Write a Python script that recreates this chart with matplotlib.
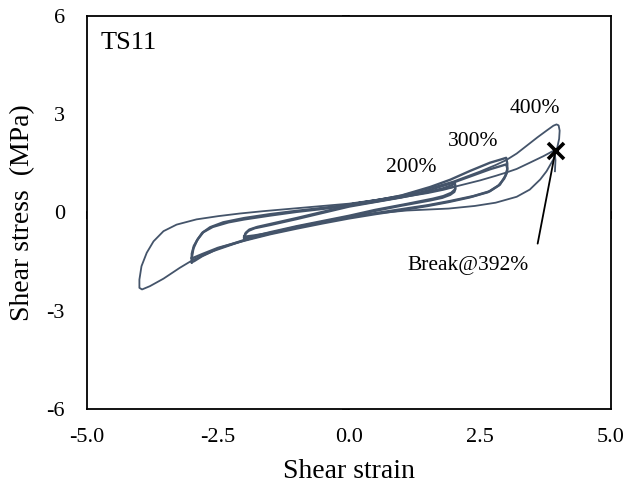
import matplotlib
matplotlib.use('Agg')
import matplotlib.pyplot as plt

plt.rcParams['font.family'] = ['Liberation Serif', 'DejaVu Serif']

# 200% cycles (strain, stress)
strain_200a = [-2.0, -1.98, -1.92, -1.8, -1.5, -1.0, -0.5, 0.0, 0.5, 1.0, 1.5, 1.8, 1.97, 2.02,
               2.03, 2.02, 1.95, 1.8, 1.6, 1.1, 0.5, 0.0, -0.5, -1.0, -1.5, -1.8, -1.95, -2.0]
stress_200a = [-0.80, -0.66, -0.56, -0.48, -0.38, -0.20, -0.01, 0.18, 0.32, 0.46, 0.62, 0.74, 0.84, 0.90,
               0.80, 0.70, 0.60, 0.50, 0.42, 0.26, 0.08, -0.10, -0.26, -0.42, -0.60, -0.72, -0.78, -0.80]
strain_200b = [-2.0, -1.97, -1.9, -1.75, -1.5, -1.0, -0.5, 0.0, 0.5, 1.0, 1.5, 1.8, 1.97, 2.02,
               2.03, 2.01, 1.93, 1.78, 1.55, 1.0, 0.5, 0.0, -0.5, -1.0, -1.5, -1.8, -1.95, -2.0]
stress_200b = [-0.74, -0.62, -0.52, -0.44, -0.35, -0.17, 0.02, 0.21, 0.34, 0.47, 0.60, 0.70, 0.77, 0.80,
               0.72, 0.63, 0.54, 0.45, 0.37, 0.21, 0.05, -0.13, -0.29, -0.45, -0.62, -0.70, -0.73, -0.74]

# 300% cycles
strain_300a = [-3.0, -3.0, -2.97, -2.9, -2.8, -2.65, -2.4, -2.0, -1.5, -1.0, -0.5, 0.0, 0.5, 1.0, 1.55,
               1.93, 2.31, 2.69, 2.9, 3.0, 3.02, 3.02, 2.98, 2.88, 2.69, 2.37, 1.93, 1.5, 1.0, 0.5, 0.0,
               -0.5, -1.0, -1.5, -2.0, -2.5, -2.8, -2.95, -3.0]
stress_300a = [-1.52, -1.38, -1.10, -0.85, -0.62, -0.45, -0.30, -0.17, -0.05, 0.05, 0.14, 0.24, 0.36, 0.52, 0.78,
               1.00, 1.27, 1.52, 1.62, 1.67, 1.50, 1.30, 1.11, 0.85, 0.65, 0.50, 0.35, 0.22, 0.10, -0.02, -0.15,
               -0.30, -0.46, -0.64, -0.84, -1.10, -1.33, -1.48, -1.52]
strain_300b = [-3.0, -3.0, -2.96, -2.88, -2.78, -2.6, -2.3, -2.0, -1.5, -1.0, -0.5, 0.0, 0.5, 1.0, 1.5,
               1.93, 2.31, 2.69, 2.9, 3.0, 3.02, 3.01, 2.96, 2.85, 2.65, 2.3, 1.9, 1.5, 1.0, 0.5, 0.0,
               -0.5, -1.0, -1.5, -2.0, -2.5, -2.8, -2.95, -3.0]
stress_300b = [-1.40, -1.26, -1.02, -0.80, -0.60, -0.44, -0.30, -0.21, -0.09, 0.02, 0.11, 0.21, 0.33, 0.47, 0.67,
               0.88, 1.10, 1.32, 1.42, 1.47, 1.35, 1.20, 1.03, 0.82, 0.62, 0.46, 0.32, 0.20, 0.07, -0.05, -0.18,
               -0.33, -0.49, -0.66, -0.86, -1.08, -1.27, -1.37, -1.40]

# 400% cycle and second loading up to break
strain_400 = [0.0, 0.5, 1.0, 1.5, 2.0, 2.5, 2.8, 3.0, 3.2, 3.4, 3.6, 3.77, 3.9, 3.96, 4.0, 4.02, 4.01, 3.97,
              3.9, 3.77, 3.65, 3.45, 3.2, 2.8, 2.4, 1.9, 1.1, 0.5, 0.0, -0.5, -1.0, -1.64, -2.08, -2.59,
              -2.97, -3.23, -3.54, -3.8, -3.95, -4.0, -4.0, -3.96, -3.86, -3.73, -3.54, -3.29, -2.91, -2.49,
              -2.08, -1.64, -1.0, -0.5, 0.0, 0.5, 1.0, 1.5, 2.0, 2.5, 2.8, 3.0, 3.2, 3.45, 3.71, 3.92, 3.94, 3.93]
stress_400 = [0.25, 0.38, 0.52, 0.72, 0.95, 1.25, 1.45, 1.60, 1.80, 2.05, 2.30, 2.50, 2.65, 2.69, 2.66, 2.50, 2.25, 1.95,
              1.62, 1.26, 1.01, 0.70, 0.48, 0.30, 0.20, 0.12, 0.06, -0.03, -0.14, -0.28, -0.43, -0.68, -0.90, -1.18,
              -1.44, -1.69, -2.02, -2.25, -2.35, -2.30, -2.05, -1.64, -1.23, -0.88, -0.57, -0.37, -0.21, -0.11,
              -0.03, 0.04, 0.13, 0.20, 0.27, 0.38, 0.50, 0.63, 0.78, 0.98, 1.12, 1.22, 1.33, 1.52, 1.72, 1.90, 1.60, 1.26]

break_strain, break_stress = 3.95, 1.88

line_color = '#44546A'

fig = plt.figure(figsize=(6.29, 4.88), dpi=100)
ax = fig.add_axes([0.1383, 0.1619, 0.9714 - 0.1383, 0.9672 - 0.1619])

for xs, ys in [(strain_200a, stress_200a), (strain_200b, stress_200b),
               (strain_300a, stress_300a), (strain_300b, stress_300b)]:
    ax.plot(xs, ys, color=line_color, lw=1.7, solid_joinstyle='round')
ax.plot(strain_400, stress_400, color=line_color, lw=1.3, solid_joinstyle='round')

ax.plot([break_strain], [break_stress], marker='x', color='black', ms=11, mew=2.6, zorder=5)
# leader line from label to break point
ax.annotate('', xy=(break_strain - 0.02, break_stress - 0.08), xytext=(3.6, -0.95),
            arrowprops=dict(arrowstyle='-', color='black', lw=1.3, shrinkA=0, shrinkB=0))
ax.text(2.27, -1.62, 'Break@392%', ha='center', va='center', fontsize=15.5)

ax.text(1.18, 1.37, '200%', ha='center', va='center', fontsize=15.5)
ax.text(2.36, 2.18, '300%', ha='center', va='center', fontsize=15.5)
ax.text(3.55, 3.17, '400%', ha='center', va='center', fontsize=15.5)
ax.text(-4.75, 5.19, 'TS11', ha='left', va='center', fontsize=19)

ax.set_xlim(-5, 5)
ax.set_ylim(-6, 6)
ax.set_xticks([-5, -2.5, 0, 2.5, 5])
ax.set_xticklabels(['-5.0', '-2.5', '0.0', '2.5', '5.0'])
ax.set_yticks([-6, -3, 0, 3, 6])
ax.set_yticklabels(['-6', '-3', '0', '3', '6'])
ax.tick_params(length=0, labelsize=16)
ax.tick_params(axis='x', pad=14)
ax.tick_params(axis='y', pad=16)
for s in ax.spines.values():
    s.set_linewidth(1.3)
ax.set_xlabel('Shear strain', fontsize=20, labelpad=8)
ax.set_ylabel('Shear stress  (MPa)', fontsize=20, labelpad=8)

# axes crossing at zero, with small outward ticks
ax2 = fig.add_axes(ax.get_position(), frameon=True, facecolor='none')
ax2.set_xlim(-5, 5)
ax2.set_ylim(-6, 6)
for side in ['top', 'right']:
    ax2.spines[side].set_visible(False)
ax2.spines['left'].set_position(('data', 0))
ax2.spines['bottom'].set_position(('data', 0))
ax2.spines['left'].set_linewidth(1.3)
ax2.spines['bottom'].set_linewidth(1.3)
ax2.set_xticks([-5, -2.5, 0, 2.5, 5])
ax2.set_yticks([-6, -3, 0, 3, 6])
ax2.tick_params(direction='out', length=5, width=1.2, labelbottom=False, labelleft=False)
ax2.set_zorder(ax.get_zorder() - 1)

fig.savefig('out.png', dpi=100)
